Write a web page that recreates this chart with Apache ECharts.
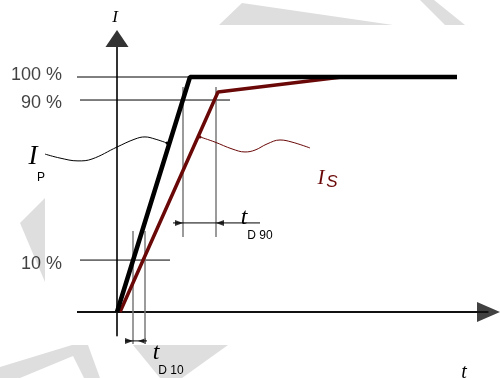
<!DOCTYPE html>
<html><head><meta charset="utf-8">
<script src="https://cdn.jsdelivr.net/npm/echarts@6/dist/echarts.min.js"></script>
<style>html,body{margin:0;padding:0;background:#fff}#c{width:500px;height:378px}</style>
</head><body><div id="c"></div>
<script>
// Schematic units: t = time (arbitrary), I = current (0 baseline, 100 = full current)
const levelLabels = ['100 %', '90 %', '10 %'];
const levelValues = [100, 90.2, 22.1];
const levelStart = [-40, -37, -37];
const levelEnd = [73, 113, 53];

// primary current I_P
const primaryT = [0, 73, 340];
const primaryI = [0, 100, 100];
// secondary current I_S
const secondaryT = [3, 101, 225];
const secondaryI = [0, 93.6, 100];

// time axis extent (drawn)
const timeAxisT = [-40, 371.5];

// reference verticals (crossing times)
const markT = [66, 99, 16, 28];
const markTop = [95.7, 95.7, 34.5, 34.5];
const markBottom = [31.9, 31.9, -13.6, -13.6];

// dimension lines t_D90, t_D10
const dimI = [37.9, -12.3];
const dimFrom = [56, 8];
const dimTo = [143, 30];
const arrowT = [62, 103, 12, 25];
const arrowI = [37.9, 37.9, -12.3, -12.3];
const arrowDir = ['right', 'left', 'right', 'left'];

// leader curves
const ipCurveT = [-72, -57, -39, -25, 0, 18, 28, 38, 50];
const ipCurveI = [67.2, 65.5, 64.3, 65.1, 70.2, 73.6, 74.5, 73.6, 71.9];
const isCurveT = [193, 175, 163, 150, 138, 128, 115, 98, 83];
const isCurveI = [69.8, 72.3, 73.2, 71.5, 68.9, 68.1, 69.4, 72.3, 74.5];

const RED = '#6a0808';
const zip = (a, b) => a.map((v, i) => [v, b[i]]);

const series = [];
// time axis line + arrow head
series.push({
  type: 'line', clip: false, symbol: 'none', silent: true, z: 1,
  lineStyle: { color: '#111', width: 2 },
  data: timeAxisT.map(t => [t, 0])
});
series.push({
  type: 'scatter', clip: false, silent: true, z: 1,
  symbol: 'triangle', symbolSize: [20, 23], symbolRotate: -90,
  itemStyle: { color: '#111' },
  data: [[timeAxisT[1], 0]]
});
const labelDist = [15, 18, 18];
const labelNudge = [-2, 3, 4];
levelValues.forEach((lv, i) => {
  series.push({
    type: 'line', clip: false, symbol: 'none', silent: true,
    lineStyle: { color: '#000', width: 1 },
    data: [[levelStart[i], lv], [levelEnd[i], lv]]
  });
  series.push({
    type: 'scatter', clip: false, silent: true, symbolSize: 0,
    label: { show: true, position: 'left', distance: labelDist[i], offset: [0, labelNudge[i]], formatter: levelLabels[i], fontFamily: 'Liberation Sans', fontSize: 18, color: '#111' },
    data: [[levelStart[i], lv]]
  });
});
markT.forEach((t, i) => {
  series.push({
    type: 'line', clip: false, symbol: 'none', silent: true,
    lineStyle: { color: '#7a7a7a', width: 1.5 },
    data: [[t, markTop[i]], [t, markBottom[i]]]
  });
});
dimI.forEach((v, i) => {
  series.push({
    type: 'line', clip: false, symbol: 'none', silent: true,
    lineStyle: { color: '#000', width: 1 },
    data: [[dimFrom[i], v], [dimTo[i], v]]
  });
});
series.push({
  type: 'scatter', clip: false, silent: true,
  symbol: 'triangle', symbolSize: [6, 8],
  itemStyle: { color: '#000' },
  data: arrowT.map((t, i) => ({ value: [t, arrowI[i]], symbolRotate: arrowDir[i] === 'right' ? -90 : 90 }))
});
function curveData(ts, is) {
  return ts.map((t, i) => i === ts.length - 1
    ? { value: [t, is[i]], symbol: 'circle', symbolSize: 3 }
    : [t, is[i]]);
}
series.push({
  type: 'line', clip: false, smooth: 0.4, silent: true, showSymbol: true, symbol: 'none',
  lineStyle: { color: '#000', width: 1 }, itemStyle: { color: '#000' },
  data: curveData(ipCurveT, ipCurveI)
});
series.push({
  type: 'line', clip: false, smooth: 0.4, silent: true, showSymbol: true, symbol: 'none',
  lineStyle: { color: RED, width: 1 }, itemStyle: { color: RED },
  data: curveData(isCurveT, isCurveI)
});
series.push({
  type: 'line', clip: false, symbol: 'none', silent: true, z: 4,
  lineStyle: { color: RED, width: 3.5 },
  data: zip(secondaryT, secondaryI)
});
series.push({
  type: 'line', clip: false, symbol: 'none', silent: true, z: 5,
  lineStyle: { color: '#000', width: 4.5 },
  data: zip(primaryT, primaryI)
});

const grey = '#dedede';
const txt = (text, x, y, font, fill) => ({ type: 'text', x, y, z: 10, style: { text, font, fill: fill || '#000', align: 'center', verticalAlign: 'middle' } });
const graphic = [
  { type: 'polygon', z: 0, shape: { points: [[219, 25], [242, 3], [393, 25]] }, style: { fill: grey } },
  { type: 'polygon', z: 0, shape: { points: [[420, 0], [434, 0], [465, 25], [445, 25]] }, style: { fill: grey } },
  { type: 'polygon', z: 0, shape: { points: [[20, 223], [45, 198], [45, 282]] }, style: { fill: grey } },
  { type: 'polygon', z: 0, shape: { points: [[0, 367], [72, 345], [88, 345], [100, 378], [84, 378], [73, 356], [20, 378], [0, 378]] }, style: { fill: grey } },
  { type: 'polygon', z: 0, shape: { points: [[133, 345], [228, 345], [182, 378], [160, 378]] }, style: { fill: grey } },
  txt('I', 115, 18, 'italic 17px "Liberation Serif"'),
  txt('I', 33, 157, 'italic 27px "Liberation Serif"'),
  txt('P', 41, 178, '12px "Liberation Sans"'),
  txt('I', 321, 178, 'italic 21px "Liberation Serif"', RED),
  txt('S', 332, 182, 'italic 17px "Liberation Sans"', RED),
  txt('t', 244, 218, 'italic 24px "Liberation Serif"'),
  txt('D 90', 260, 236, '12px "Liberation Sans"'),
  txt('t', 156, 353, 'italic 24px "Liberation Serif"'),
  txt('D 10', 171, 371, '12px "Liberation Sans"'),
  txt('t', 464, 373, 'italic 20px "Liberation Serif"')
];

const chart = echarts.init(document.getElementById('c'), null, { renderer: 'canvas' });
chart.setOption({
  animation: false,
  backgroundColor: '#fff',
  grid: { left: 37, top: 38.5, width: 451.5, height: 297, containLabel: false },
  xAxis: {
    type: 'value', min: -80, max: 371.5,
    axisLine: { show: false },
    axisTick: { show: false }, axisLabel: { show: false }, splitLine: { show: false }
  },
  yAxis: {
    type: 'value', min: -10, max: 116.383,
    axisLine: { show: true, onZero: true, symbol: ['none', 'triangle'], symbolSize: [23, 17], lineStyle: { color: '#333', width: 2 } },
    axisTick: { show: false }, axisLabel: { show: false }, splitLine: { show: false }
  },
  graphic,
  series
});
</script>
</body></html>
